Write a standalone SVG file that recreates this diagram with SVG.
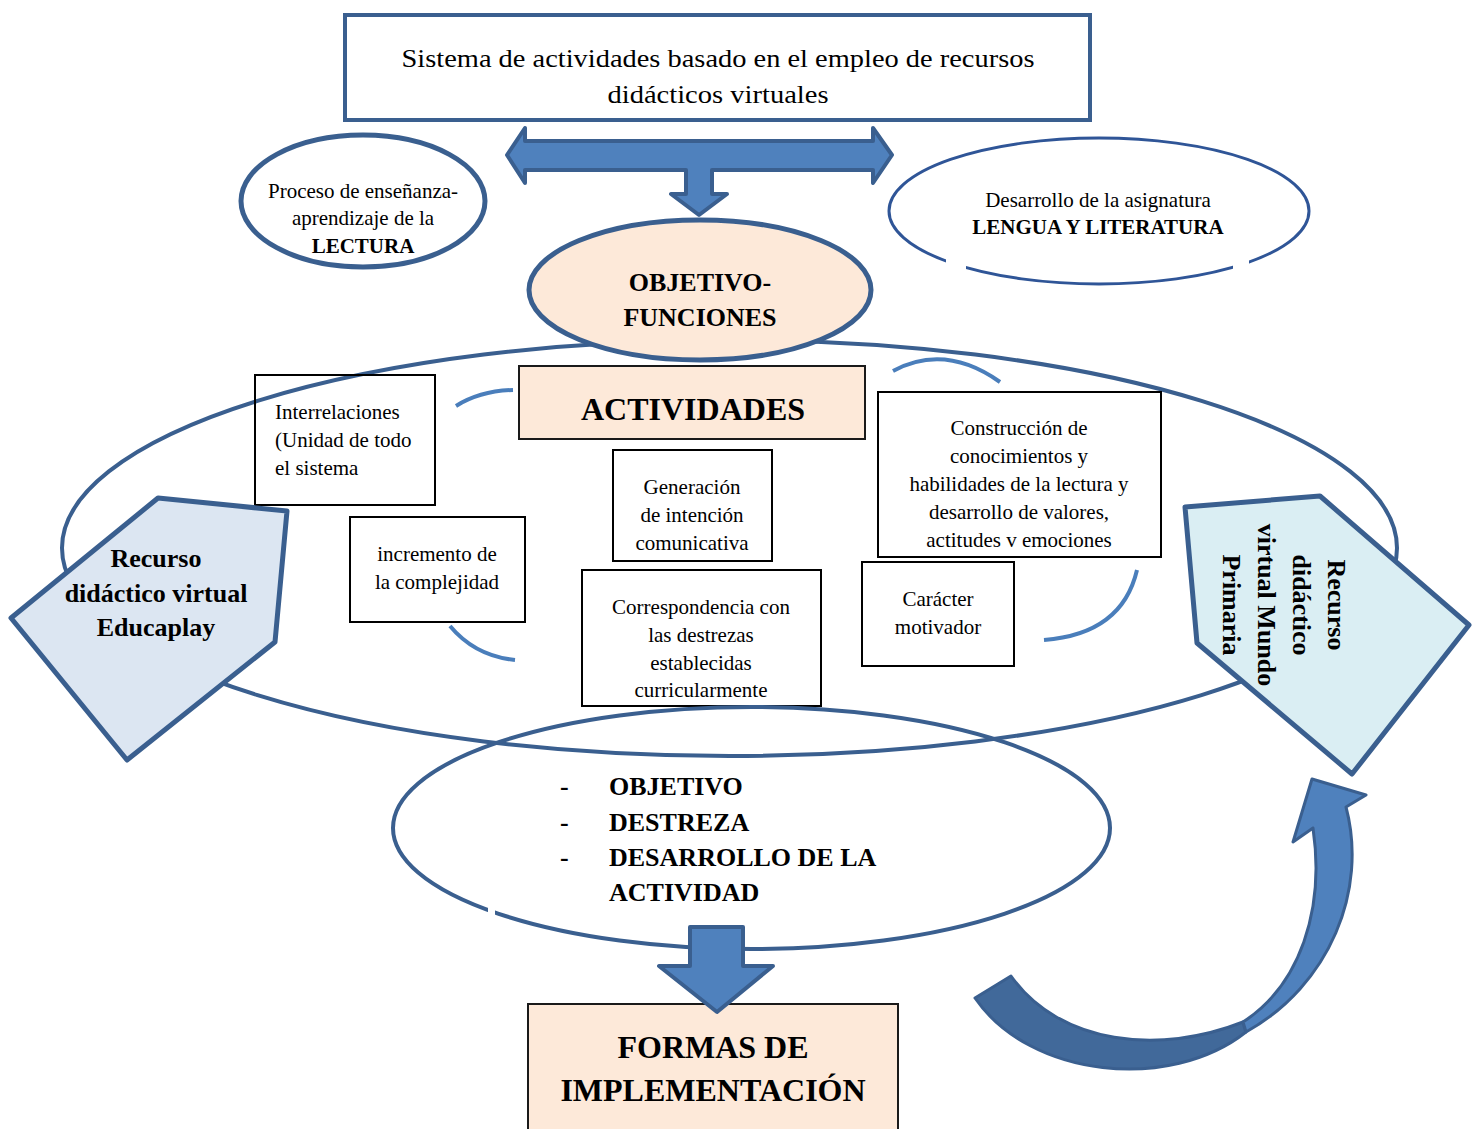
<svg xmlns="http://www.w3.org/2000/svg" width="1472" height="1129" viewBox="0 0 1472 1129">
<defs>
<style>
.t{font-family:"Liberation Serif","Times New Roman",serif;font-size:21px;fill:#000}
.s26{font-size:26px}
.s32{font-size:32px}
.c{text-anchor:middle}
.b{font-weight:bold}
.blue{fill:none;stroke:#3a5f8f;stroke-width:4}
.box{fill:none;stroke:#000;stroke-width:2}
.peach{fill:#fde9d9;stroke:#1a1a1a;stroke-width:2}
.arc{fill:none;stroke:#4a7ebb;stroke-width:4}
.arr{fill:#4f81bd;stroke:#3a5f8f;stroke-width:4;stroke-linejoin:round}
</style>
</defs>
<rect width="1472" height="1129" fill="#fff"/>

<g id="top-box">
<rect x="345" y="15" width="745" height="105" fill="#fff" stroke="#3a5f8f" stroke-width="4"/>
<text class="t c s26" x="718" y="67" textLength="633" lengthAdjust="spacingAndGlyphs">Sistema de actividades basado en el empleo de recursos</text>
<text class="t c s26" x="718" y="103" textLength="221" lengthAdjust="spacingAndGlyphs">didácticos virtuales</text>
</g>

<g id="lectura">
<ellipse cx="363" cy="201" rx="122" ry="66" fill="#fff" stroke="#3a5f8f" stroke-width="5"/>
<text class="t c" x="363" y="198">Proceso de enseñanza-</text>
<text class="t c" x="363" y="225">aprendizaje de la</text>
<text class="t c b" x="363" y="253">LECTURA</text>
</g>

<g id="asignatura">
<ellipse cx="1099" cy="211" rx="210" ry="73" fill="#fff" stroke="#2f5597" stroke-width="3"/>
<rect x="946" y="256" width="20" height="14" fill="#fff"/>
<rect x="1233" y="256" width="16" height="14" fill="#fff"/>
<text class="t c" x="1098" y="207">Desarrollo de la asignatura</text>
<text class="t c b" x="1098" y="234">LENGUA Y LITERATURA</text>
</g>

<g id="ciclo">
<ellipse cx="729.5" cy="548" rx="667.5" ry="208" class="blue"/>
</g>

<g id="objetivo-funciones">
<ellipse cx="700" cy="290" rx="171" ry="70" fill="#fde9d9" stroke="#3a5f8f" stroke-width="5"/>
<text class="t c b s26" x="700" y="291">OBJETIVO-</text>
<text class="t c b s26" x="700" y="326">FUNCIONES</text>
</g>

<g id="actividades">
<rect x="519" y="366" width="346" height="73" class="peach"/>
<text class="t c b s32" x="693" y="420">ACTIVIDADES</text>
</g>

<g id="interrelaciones">
<rect x="255" y="375" width="180" height="130" class="box"/>
<text class="t" x="275" y="419">Interrelaciones</text>
<text class="t" x="275" y="447">(Unidad de todo</text>
<text class="t" x="275" y="475">el sistema</text>
</g>

<g id="generacion">
<rect x="613" y="450" width="159" height="111" class="box"/>
<text class="t c" x="692" y="494">Generación</text>
<text class="t c" x="692" y="522">de intención</text>
<text class="t c" x="692" y="550">comunicativa</text>
</g>

<g id="incremento">
<rect x="350" y="517" width="175" height="105" class="box"/>
<text class="t c" x="437" y="561">incremento de</text>
<text class="t c" x="437" y="589">la complejidad</text>
</g>

<g id="correspondencia">
<rect x="582" y="570" width="239" height="136" class="box"/>
<text class="t c" x="701" y="614">Correspondencia con</text>
<text class="t c" x="701" y="642">las destrezas</text>
<text class="t c" x="701" y="670">establecidas</text>
<text class="t c" x="701" y="697">curricularmente</text>
</g>

<g id="construccion">
<rect x="878" y="392" width="283" height="165" class="box"/>
<text class="t c" x="1019" y="435">Construcción de</text>
<text class="t c" x="1019" y="463">conocimientos y</text>
<text class="t c" x="1019" y="491">habilidades de la lectura y</text>
<text class="t c" x="1019" y="519">desarrollo de valores,</text>
<text class="t c" x="1019" y="547">actitudes v emociones</text>
</g>

<g id="caracter">
<rect x="862" y="562" width="152" height="104" class="box"/>
<text class="t c" x="938" y="606">Carácter</text>
<text class="t c" x="938" y="634">motivador</text>
</g>

<g id="educaplay">
<polygon points="158,498 287,511 275,642 127,760 11,618" fill="#dce6f2" stroke="#3a5f8f" stroke-width="5" stroke-linejoin="round"/>
<text class="t c b s26" x="156" y="567">Recurso</text>
<text class="t c b s26" x="156" y="602">didáctico virtual</text>
<text class="t c b s26" x="156" y="636">Educaplay</text>
</g>

<g id="mundo-primaria">
<polygon points="1185,507 1320,496 1469,625 1352,774 1197,643" fill="#daeef3" stroke="#3a5f8f" stroke-width="5" stroke-linejoin="round"/>
<g transform="translate(1280,605) rotate(90)">
<text class="t c b s26" x="0" y="-48">Recurso</text>
<text class="t c b s26" x="0" y="-13">didáctico</text>
<text class="t c b s26" x="0" y="22">virtual Mundo</text>
<text class="t c b s26" x="0" y="57">Primaria</text>
</g>
</g>

<g id="elementos">
<ellipse cx="751.5" cy="828" rx="358.5" ry="121" class="blue"/>
<rect x="488" y="906" width="7" height="10" fill="#fff"/>
<text class="t b s26" x="560" y="795">-</text>
<text class="t b s26" x="560" y="831">-</text>
<text class="t b s26" x="560" y="866">-</text>
<text class="t b s26" x="609" y="795">OBJETIVO</text>
<text class="t b s26" x="609" y="831">DESTREZA</text>
<text class="t b s26" x="609" y="866">DESARROLLO DE LA</text>
<text class="t b s26" x="609" y="901">ACTIVIDAD</text>
</g>

<g id="formas">
<rect x="528" y="1004" width="370" height="130" class="peach"/>
<text class="t c b s32" x="713" y="1058">FORMAS DE</text>
<text class="t c b s32" x="713" y="1101">IMPLEMENTACIÓN</text>
</g>

<g id="connectors">
<path class="arr" d="M507,155 L525,128 L525,141 L873,141 L873,128 L892,155 L873,183 L873,170 L712,170 L712,194 L727,194 L699,215 L671,194 L686,194 L686,170 L525,170 L525,183 Z"/>
<path class="arr" d="M690,927 L743,927 L743,966 L773,966 L717,1012 L659,966 L690,966 Z"/>
<path class="arc" d="M456,406 Q480,391 513,390"/>
<path class="arc" d="M893,371 Q945,343 1000,382"/>
<path class="arc" d="M450,626 Q475,656 515,660"/>
<path class="arc" d="M1137,570 Q1122,634 1044,640"/>
<path d="M975,998 C1030,1078 1170,1092 1246,1032 L1243,1022 C1160,1055 1060,1045 1011,976 Z" fill="#41699a" stroke="#3a5f8f" stroke-width="3" stroke-linejoin="round"/>
<path d="M1243,1022 C1300,985 1325,910 1313,828 L1293,842 L1312,779 L1366,795 L1346,807 C1368,890 1330,985 1246,1032 Z" fill="#4f81bd" stroke="#3a5f8f" stroke-width="3" stroke-linejoin="round"/>
</g>
</svg>
